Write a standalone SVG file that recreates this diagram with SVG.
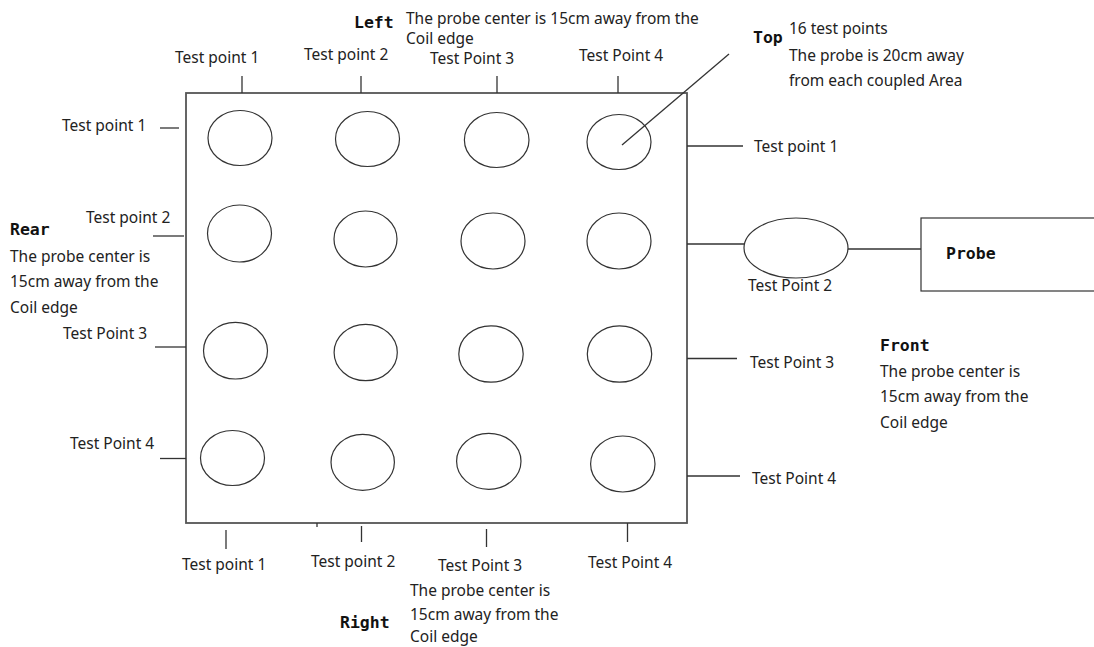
<svg xmlns="http://www.w3.org/2000/svg" width="1094" height="647" viewBox="0 0 1094 647">
<style>
.t{font-family:"Noto Sans","Liberation Sans",sans-serif;font-size:15.5px;fill:#222}
.b{font-family:"DejaVu Sans Mono","Liberation Mono",monospace;font-size:16.5px;font-weight:bold;fill:#111}
.c{fill:none;stroke:#333;stroke-width:1.2}
.l{stroke:#333;stroke-width:1.3;fill:none}
.r{fill:none;stroke:#555;stroke-width:1.8}
</style>
<rect width="1094" height="647" fill="#fff"/>
<g id="coil"><rect class="r" x="186" y="93" width="501" height="430"/></g>
<g id="coil-points">
<ellipse class="c" cx="240" cy="138" rx="32" ry="27.5"/>
<ellipse class="c" cx="367.5" cy="139" rx="32" ry="27.5"/>
<ellipse class="c" cx="496.7" cy="140" rx="32.3" ry="27.5"/>
<ellipse class="c" cx="619" cy="142" rx="32" ry="27.5"/>
<ellipse class="c" cx="239.5" cy="233.5" rx="32" ry="28.5"/>
<ellipse class="c" cx="365.5" cy="239" rx="31.5" ry="28"/>
<ellipse class="c" cx="493" cy="241" rx="32" ry="28"/>
<ellipse class="c" cx="619" cy="241" rx="32" ry="28"/>
<ellipse class="c" cx="235.5" cy="350.7" rx="32" ry="28.3"/>
<ellipse class="c" cx="365.7" cy="352.5" rx="31.6" ry="28.2"/>
<ellipse class="c" cx="491" cy="354" rx="32.2" ry="28.2"/>
<ellipse class="c" cx="619.5" cy="354" rx="32.2" ry="28.2"/>
<ellipse class="c" cx="232.5" cy="458" rx="32" ry="27.5"/>
<ellipse class="c" cx="362.7" cy="462.3" rx="31.7" ry="28"/>
<ellipse class="c" cx="488.8" cy="461.3" rx="32.2" ry="28"/>
<ellipse class="c" cx="622.8" cy="464" rx="32.2" ry="28"/>
</g>
<g id="probe-point"><ellipse class="c" cx="796" cy="248" rx="52" ry="30"/></g>
<g id="probe"><rect class="c" x="921" y="218" width="200" height="73"/><text class="b" x="946" y="259">Probe</text></g>
<g id="connectors">
<line class="l" x1="242" y1="76" x2="242" y2="93"/>
<line class="l" x1="361" y1="76" x2="361" y2="93"/>
<line class="l" x1="497" y1="76" x2="497" y2="93"/>
<line class="l" x1="618" y1="76" x2="618" y2="93"/>
<line class="l" x1="160" y1="128" x2="179" y2="128"/>
<line class="l" x1="153" y1="236" x2="184" y2="236"/>
<line class="l" x1="155" y1="347" x2="186" y2="347"/>
<line class="l" x1="160" y1="458.5" x2="186" y2="458.5"/>
<line class="l" x1="687" y1="146" x2="743" y2="146"/>
<line class="l" x1="687" y1="244" x2="744" y2="244"/>
<line class="l" x1="848" y1="249" x2="921" y2="249"/>
<line class="l" x1="687" y1="358.5" x2="737" y2="358.5"/>
<line class="l" x1="687" y1="476" x2="740" y2="476"/>
<line class="l" x1="226" y1="530" x2="226" y2="549"/>
<line class="l" x1="317" y1="523" x2="317" y2="527"/>
<line class="l" x1="361.5" y1="526" x2="361.5" y2="542"/>
<line class="l" x1="486.5" y1="529" x2="486.5" y2="547"/>
<line class="l" x1="627.5" y1="523" x2="627.5" y2="542"/>
<line class="l" x1="622" y1="145" x2="729" y2="54" stroke-width="1"/>
</g>
<g id="labels">
<text class="t" x="175" y="63">Test point 1</text>
<text class="t" x="304" y="60">Test point 2</text>
<text class="t" x="430" y="64">Test Point 3</text>
<text class="t" x="579" y="61">Test Point 4</text>
<text class="b" x="354" y="28">Left</text>
<text class="t" x="406" y="24">The probe center is 15cm away from the</text>
<text class="t" x="406" y="44">Coil edge</text>
<text class="b" x="753" y="43">Top</text>
<text class="t" x="789" y="34">16 test points</text>
<text class="t" x="789" y="61">The probe is 20cm away</text>
<text class="t" x="789" y="86">from each coupled Area</text>
<text class="t" x="62" y="131">Test point 1</text>
<text class="t" x="86" y="223">Test point 2</text>
<text class="b" x="10" y="235">Rear</text>
<text class="t" x="10" y="262">The probe center is</text>
<text class="t" x="10" y="287">15cm away from the</text>
<text class="t" x="10" y="313">Coil edge</text>
<text class="t" x="63" y="339">Test Point 3</text>
<text class="t" x="70" y="449">Test Point 4</text>
<text class="t" x="754" y="152">Test point 1</text>
<text class="t" x="748" y="291">Test Point 2</text>
<text class="t" x="750" y="368">Test Point 3</text>
<text class="t" x="752" y="484">Test Point 4</text>
<text class="b" x="880" y="351">Front</text>
<text class="t" x="880" y="377">The probe center is</text>
<text class="t" x="880" y="402">15cm away from the</text>
<text class="t" x="880" y="428">Coil edge</text>
<text class="t" x="182" y="570">Test point 1</text>
<text class="t" x="311" y="567">Test point 2</text>
<text class="t" x="438" y="571">Test Point 3</text>
<text class="t" x="588" y="568">Test Point 4</text>
<text class="t" x="410" y="596">The probe center is</text>
<text class="t" x="410" y="620">15cm away from the</text>
<text class="t" x="410" y="642">Coil edge</text>
<text class="b" x="340" y="628">Right</text>
</g>
</svg>
